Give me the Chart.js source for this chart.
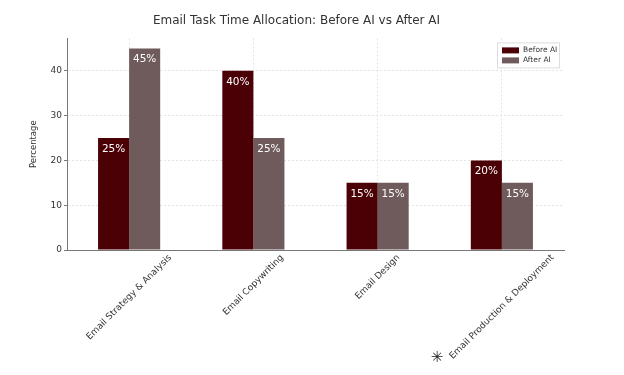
<!DOCTYPE html>
<html>
<head>
<meta charset="utf-8">
<script src="https://cdn.jsdelivr.net/npm/chart.js@4.4.0/dist/chart.umd.min.js"></script>
<style>
  html, body { margin: 0; padding: 0; background: #fff; }
  #wrap { width: 624px; height: 375px; }
</style>
</head>
<body>
<div id="wrap"><canvas id="taskChart" width="624" height="375"></canvas></div>
<script>
const categories = ['Email Strategy & Analysis', 'Email Copywriting', 'Email Design', 'Email Production & Deployment'];
const beforeAI = [25, 40, 15, 20];
const afterAI = [45, 25, 15, 15];
const yTicks = [0, 10, 20, 30, 40];

const FONT = 'DejaVu Sans';

// white value labels near the top of each bar
const barLabels = {
    id: 'barLabels',
    afterDatasetsDraw(chart) {
        const ctx = chart.ctx;
        ctx.save();
        ctx.fillStyle = '#ffffff';
        ctx.font = '10.5px "' + FONT + '"';
        ctx.textAlign = 'center';
        ctx.textBaseline = 'middle';
        chart.data.datasets.forEach((ds, i) => {
            chart.getDatasetMeta(i).data.forEach((bar, j) => {
                ctx.fillText(ds.data[j] + '%', bar.x, bar.y + 11);
            });
        });
        ctx.restore();
    }
};

// x labels rotated 45deg, centred under the tick (matplotlib style)
const rotatedLabels = {
    id: 'rotatedLabels',
    afterDraw(chart) {
        const ctx = chart.ctx;
        const xs = chart.scales.x;
        const top = chart.chartArea.bottom + 3;
        const fs = 9;
        ctx.save();
        ctx.font = fs + 'px "' + FONT + '"';
        ctx.fillStyle = '#333';
        ctx.textAlign = 'center';
        ctx.textBaseline = 'middle';
        categories.forEach((c, i) => {
            const w = ctx.measureText(c).width;
            const half = (w + fs) * Math.SQRT1_2 / 2;
            const cx = xs.getPixelForValue(i);
            ctx.save();
            ctx.translate(cx, top + half);
            ctx.rotate(-Math.PI / 4);
            ctx.fillText(c, 0, 0);
            ctx.restore();
        });
        // small mark left of the last label
        ctx.font = 'bold 15px "' + FONT + '"';
        ctx.fillStyle = '#222';
        ctx.fillText('\u2733', 437, 358);
        ctx.restore();
    }
};

// boxed legend inside the plot, top right
const boxLegend = {
    id: 'boxLegend',
    afterDraw(chart) {
        const ctx = chart.ctx;
        const area = chart.chartArea;
        const x = area.right - 67, y = area.top + 4;
        ctx.save();
        ctx.fillStyle = 'rgba(255,255,255,0.9)';
        ctx.strokeStyle = '#dddddd';
        ctx.lineWidth = 1;
        ctx.fillRect(x, y, 62, 25);
        ctx.strokeRect(x + 0.5, y + 0.5, 62, 25);
        ctx.font = '7.5px "' + FONT + '"';
        ctx.textBaseline = 'middle';
        chart.data.datasets.forEach((ds, i) => {
            const ry = y + 8 + i * 10;
            ctx.fillStyle = ds.backgroundColor;
            ctx.fillRect(x + 5, ry - 3, 17, 6);
            ctx.fillStyle = '#333';
            ctx.fillText(ds.label, x + 26, ry);
        });
        ctx.restore();
    }
};

new Chart(document.getElementById('taskChart').getContext('2d'), {
    type: 'bar',
    data: {
        labels: categories,
        datasets: [
            {
                label: 'Before AI',
                data: beforeAI,
                backgroundColor: '#4a0004',
                categoryPercentage: 0.5,
                barPercentage: 1.0
            },
            {
                label: 'After AI',
                data: afterAI,
                backgroundColor: '#6f5a5c',
                categoryPercentage: 0.5,
                barPercentage: 1.0
            }
        ]
    },
    options: {
        responsive: false,
        animation: false,
        layout: { padding: { left: 29, right: 60, bottom: 125, top: 0 } },
        plugins: {
            legend: { display: false },
            tooltip: { enabled: false },
            title: {
                display: true,
                text: 'Email Task Time Allocation: Before AI vs After AI',
                color: '#333',
                font: { family: FONT, size: 12, weight: 'normal' },
                padding: { top: 14, bottom: 10 }
            }
        },
        scales: {
            x: {
                offset: true,
                grid: { offset: false, color: '#e4e4e4', drawTicks: false },
                border: { color: '#777', dash: [2, 2] },
                ticks: { display: false }
            },
            y: {
                min: 0,
                max: 47.25,
                afterBuildTicks(scale) {
                    scale.ticks = yTicks.map(v => ({ value: v }));
                },
                afterFit(scale) { scale.width = 38; },
                grid: { color: '#e4e4e4', tickColor: '#777', tickLength: 3 },
                border: { color: '#777', dash: [2, 2] },
                ticks: {
                    color: '#333',
                    padding: 2,
                    font: { family: FONT, size: 9 }
                },
                title: {
                    display: true,
                    text: 'Percentage',
                    color: '#333',
                    font: { family: FONT, size: 8.5 },
                    padding: 0
                }
            }
        }
    },
    plugins: [barLabels, rotatedLabels, boxLegend]
});
</script>
</body>
</html>
